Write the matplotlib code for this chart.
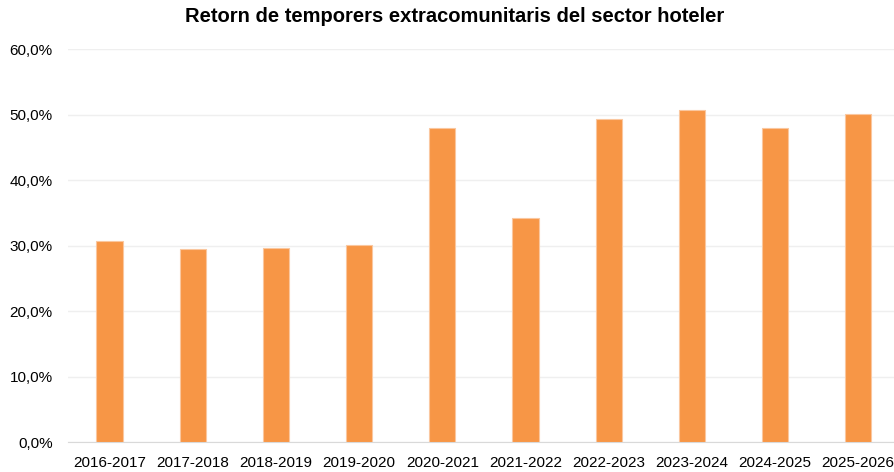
import matplotlib
matplotlib.use('Agg')
import matplotlib.pyplot as plt
from matplotlib.ticker import FuncFormatter

# Data
seasons = ['2016-2017', '2017-2018', '2018-2019', '2019-2020', '2020-2021',
           '2021-2022', '2022-2023', '2023-2024', '2024-2025', '2025-2026']
return_pct = [30.7, 29.5, 29.7, 30.1, 47.9, 34.3, 49.3, 50.7, 48.0, 50.1]

plt.rcParams['font.family'] = ['Liberation Sans', 'DejaVu Sans']

fig = plt.figure(figsize=(8.94, 4.72), dpi=100)
ax = fig.add_axes([68 / 894, 30 / 472, 1 - 68 / 894, 392.7 / 472])

x = range(len(seasons))
ax.bar(x, return_pct, width=0.315, color='#F79646', edgecolor='#FAC79F',
       linewidth=0.8, zorder=3)

ax.set_xlim(-0.5, 9.43)
ax.set_ylim(0, 60)
ax.set_yticks(range(0, 61, 10))
ax.yaxis.set_major_formatter(FuncFormatter(lambda v, _: f'{v:.1f}%'.replace('.', ',')))
ax.set_xticks(list(x))
ax.set_xticklabels(seasons)

ax.grid(axis='y', color='#EFEFEF', linewidth=1, zorder=0)
for side in ['top', 'right', 'left']:
    ax.spines[side].set_visible(False)
ax.spines['bottom'].set_color('#D9D9D9')
ax.tick_params(axis='both', length=0, labelsize=11, colors='black')
ax.tick_params(axis='x', pad=10)
ax.tick_params(axis='y', pad=11)

fig.text(0.508, 0.964, 'Retorn de temporers extracomunitaris del sector hoteler',
         ha='center', va='center', fontsize=14.5, fontweight='bold')

fig.savefig('out.png', dpi=100)
plt.close(fig)
